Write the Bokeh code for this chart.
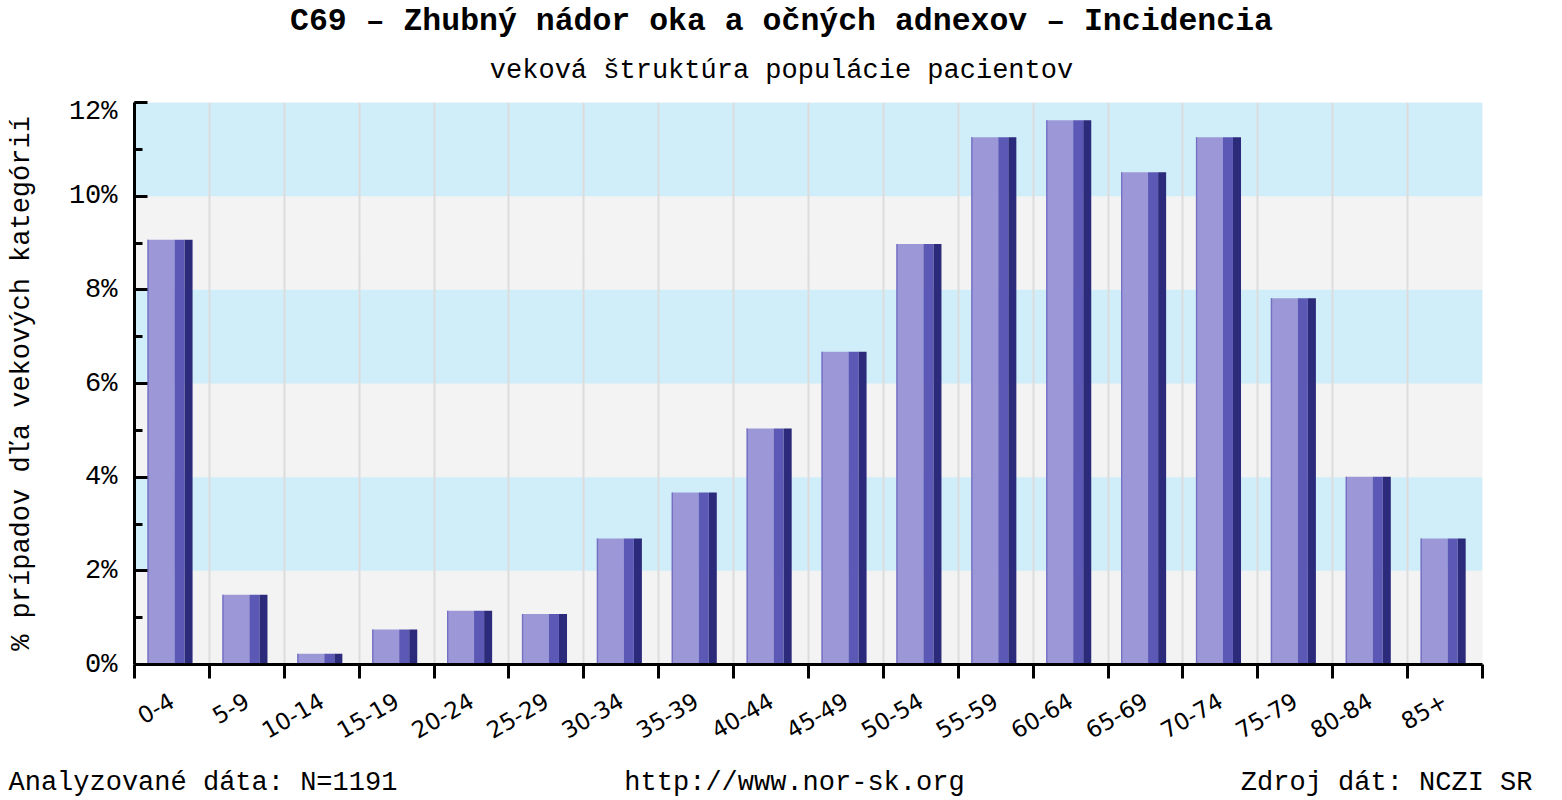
from bokeh.plotting import figure
from bokeh.layouts import column
from bokeh.models import (ColumnDataSource, Range1d, FixedTicker, SingleIntervalTicker,
                          PrintfTickFormatter, BoxAnnotation, Label)
from bokeh.transform import dodge
from bokeh.embed import file_html
from bokeh.resources import INLINE
import numpy as np

# ---- data ----
categories = ["0-4", "5-9", "10-14", "15-19", "20-24", "25-29", "30-34", "35-39", "40-44",
              "45-49", "50-54", "55-59", "60-64", "65-69", "70-74", "75-79", "80-84", "85+"]
percent = [9.07, 1.49, 0.23, 0.75, 1.15, 1.08, 2.69, 3.67, 5.04, 6.68, 8.98, 11.26, 11.62,
           10.51, 11.26, 7.82, 4.01, 2.69]
band_edges = [0, 2, 4, 6, 8, 10, 12]

title_text = "C69 – Zhubný nádor oka a očných adnexov – Incidencia"
subtitle_text = "veková štruktúra populácie pacientov"
y_label = "% prípadov dľa vekových kategórií"
footer_left = "Analyzované dáta: N=1191"
footer_mid = "http://www.nor-sk.org"
footer_right = "Zdroj dát: NCZI SR"

MONO = "Liberation Mono"
W = 1560
TOP_H = 96
MAIN_H = 659
BOT_H = 43

n = len(categories)
centers = [i + 0.5 for i in range(n)]
bounds = list(range(n + 1))
src = ColumnDataSource(dict(x=centers, top=percent, cat=categories))


def text_panel(height):
    f = figure(width=W, height=height, output_backend="svg", toolbar_location=None,
               title=None, x_axis_type=None, y_axis_type=None,
               x_range=Range1d(0, W), y_range=Range1d(height, 0),
               min_border=0, min_border_left=0, min_border_right=0,
               min_border_top=0, min_border_bottom=0)
    f.grid.visible = False
    f.outline_line_color = None
    f.background_fill_color = "white"
    f.frame_align = False
    return f


# ---- title panel ----
top = text_panel(TOP_H)
top.add_layout(Label(x=781, y=21, text=title_text, text_font=MONO,
                     text_font_size="31.5px", text_font_style="bold", text_align="center",
                     text_baseline="alphabetic", text_color="black"))
top.add_layout(Label(x=781, y=70, text=subtitle_text, text_font=MONO,
                     text_font_size="27px", text_align="center",
                     text_baseline="alphabetic", text_color="black"))

# ---- main chart ----
p = figure(width=W, height=MAIN_H, output_backend="svg", toolbar_location=None,
           title=None, x_range=Range1d(0, n), y_range=Range1d(0, 12),
           min_border_left=134, min_border_right=W - 1482, min_border_top=6,
           min_border_bottom=MAIN_H - 6 - 562)
p.frame_align = False
p.outline_line_color = None
p.background_fill_color = "#f3f3f3"
p.border_fill_color = "white"

for i in range(len(band_edges) - 1):
    if i % 2 == 1:
        p.add_layout(BoxAnnotation(bottom=band_edges[i], top=band_edges[i + 1],
                                   fill_color="#d0eefa", fill_alpha=1.0,
                                   line_color=None, level="image"))

p.ygrid.grid_line_color = None
p.xgrid.grid_line_color = None
p.xgrid.minor_grid_line_color = "#dcdcdc"
p.xgrid.minor_grid_line_width = 2

p.vbar(x=dodge("x", -0.146, range=p.x_range), top="top", width=0.361, bottom=0,
       source=src, fill_color="#9c97d7", line_color=None)
p.vbar(x=dodge("x", -0.318, range=p.x_range), top="top", width=0.018, bottom=0,
       source=src, fill_color="#7570c4", line_color=None)
p.vbar(x=dodge("x", 0.101, range=p.x_range), top="top", width=0.134, bottom=0,
       source=src, fill_color="#5c58b6", line_color=None)
p.vbar(x=dodge("x", 0.222, range=p.x_range), top="top", width=0.107, bottom=0,
       source=src, fill_color="#2c2a7a", line_color=None)

xa = p.xaxis[0]
xa.ticker = FixedTicker(ticks=centers, minor_ticks=bounds)
xa.major_label_overrides = {c: lab for c, lab in zip(centers, categories)}
xa.major_tick_in = 0
xa.major_tick_out = 0
xa.minor_tick_in = 0
xa.minor_tick_out = 14
xa.minor_tick_line_width = 3
xa.minor_tick_line_color = "black"
xa.axis_line_width = 3
xa.axis_line_color = "black"
xa.major_label_orientation = np.pi / 6
xa.major_label_standoff = 20
xa.major_label_text_font = "DejaVu Sans"
xa.major_label_text_font_size = "23px"
xa.major_label_text_color = "black"

ya = p.yaxis[0]
ya.ticker = SingleIntervalTicker(interval=2, num_minor_ticks=2)
ya.formatter = PrintfTickFormatter(format="%d%%")
ya.major_tick_in = 13
ya.major_tick_out = 0
ya.minor_tick_in = 8
ya.minor_tick_out = 0
ya.major_tick_line_width = 3
ya.minor_tick_line_width = 3
ya.major_tick_line_color = "black"
ya.minor_tick_line_color = "black"
ya.axis_line_width = 3
ya.axis_line_color = "black"
ya.major_label_standoff = 17
ya.major_label_text_font = MONO
ya.major_label_text_font_size = "27px"
ya.major_label_text_color = "black"
ya.axis_label = y_label
ya.axis_label_text_font = MONO
ya.axis_label_text_font_size = "27px"
ya.axis_label_text_font_style = "normal"
ya.axis_label_text_color = "black"
ya.axis_label_standoff = 29

# ---- footer panel ----
bot = text_panel(BOT_H)
fy = 27
bot.add_layout(Label(x=8, y=fy, text=footer_left, text_font=MONO, text_font_size="27px",
                     text_align="left", text_baseline="alphabetic", text_color="black"))
bot.add_layout(Label(x=794, y=fy, text=footer_mid, text_font=MONO, text_font_size="27px",
                     text_align="center", text_baseline="alphabetic", text_color="black"))
bot.add_layout(Label(x=1532, y=fy, text=footer_right, text_font=MONO, text_font_size="27px",
                     text_align="right", text_baseline="alphabetic", text_color="black"))

layout = column(top, p, bot, spacing=0)
open("out.html", "w").write(file_html(layout, INLINE))
